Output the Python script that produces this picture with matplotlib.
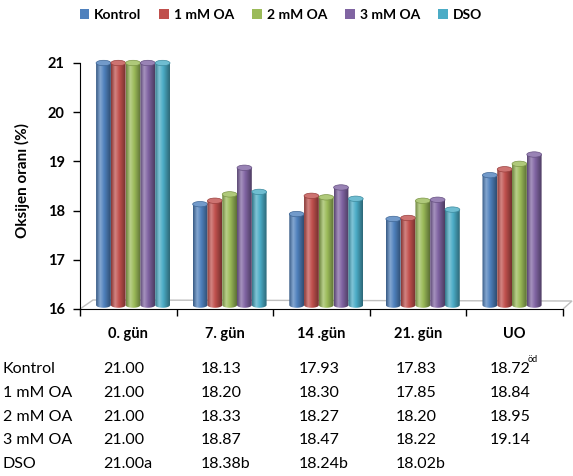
import matplotlib
matplotlib.use('Agg')
import matplotlib.pyplot as plt
import numpy as np
from matplotlib.colors import LinearSegmentedColormap, to_rgb
from matplotlib.patches import Ellipse, Patch, PathPatch, Polygon
from matplotlib.path import Path

plt.rcParams['font.family'] = ['Lato', 'DejaVu Sans']

# sampling days and treatment groups
days = ['0. gün', '7. gün', '14 .gün', '21. gün', 'UO']
groups = ['Kontrol', '1 mM OA', '2 mM OA', '3 mM OA', 'DSO']
kontrol = [21.00, 18.13, 17.93, 17.83, 18.72]
oa1 = [21.00, 18.20, 18.30, 17.85, 18.84]
oa2 = [21.00, 18.33, 18.27, 18.20, 18.95]
oa3 = [21.00, 18.87, 18.47, 18.22, 19.14]
dso = [21.00, 18.38, 18.24, 18.02, np.nan]
dso_letters = ['a', 'b', 'b', 'b', '']
kontrol_sup = ['', '', '', '', 'öd']
series = [kontrol, oa1, oa2, oa3, dso]
colors = ['#4F81BD', '#C0504D', '#9BBB59', '#8064A2', '#4BACC6']

FLOOR = '#BFBFBF'


def shade(c, f):
    r = np.array(to_rgb(c))
    return tuple(r * f) if f < 1 else tuple(r + (1 - r) * (f - 1))


def cylinder(ax, xc, w, base, top, color, z):
    # body with a horizontal gradient, rounded bottom, elliptical cap
    cap_h = 0.11
    cmap = LinearSegmentedColormap.from_list('cyl', [
        (0.0, shade(color, 0.70)), (0.28, shade(color, 1.30)),
        (0.55, shade(color, 1.0)), (1.0, shade(color, 0.60))])
    grad = np.linspace(0, 1, 64).reshape(1, -1)
    x0, x1 = xc - w / 2, xc + w / 2
    t = np.linspace(np.pi, 2 * np.pi, 30)
    verts = [(x0, top)] + [(xc + w / 2 * np.cos(a), base + cap_h / 2 * np.sin(a)) for a in t] + [(x1, top), (x0, top)]
    clip = PathPatch(Path(verts), transform=ax.transData, facecolor='none', edgecolor='none')
    ax.add_patch(clip)
    im = ax.imshow(grad, extent=[x0, x1, base - cap_h / 2, top], aspect='auto', cmap=cmap,
                   zorder=z, interpolation='bilinear')
    im.set_clip_path(clip)
    ax.add_patch(Ellipse((xc, top), w, cap_h, facecolor=shade(color, 1.2),
                         edgecolor=shade(color, 0.8), lw=0.5, zorder=z + 0.5, clip_on=False))


fig = plt.figure(figsize=(5.73, 4.76), dpi=100)
ax = fig.add_axes([80 / 573, 1 - 309 / 476, 483 / 573, 246 / 476])

x = np.arange(len(days))
bw = 0.153
shift = 0.049
base = 16.08
for j, (vals, col) in enumerate(zip(series, colors)):
    for i, v in enumerate(vals):
        if np.isnan(v):
            continue
        xc = x[i] + shift + (j - 2) * bw
        cylinder(ax, xc, bw, base, v, col, 3 + j)

# 3D floor outline
floor = Polygon([(-0.5, 16), (-0.5 + 13 / 96.6, 16 + 9 / 49.2),
                 (4.5 + 9 / 96.6, 16 + 8 / 49.2), (4.5, 16)],
                closed=False, facecolor='white', edgecolor=FLOOR, lw=1, zorder=1, clip_on=False)
ax.add_patch(floor)

ax.set_xlim(-0.5, 4.5)
ax.set_ylim(16, 21)
ax.set_yticks(range(16, 22))
ax.set_xticks(np.arange(-0.5, 5, 1))
ax.set_xticklabels([])
ax.set_xticks(x, minor=True)
ax.set_xticklabels(days, minor=True, fontweight='bold', fontsize=10.5)
ax.tick_params(axis='x', which='minor', length=0, pad=13)
ax.tick_params(axis='x', which='major', direction='out', length=5, width=1)
ax.tick_params(axis='y', direction='out', length=5, width=1, labelsize=10.5, pad=6)
for lb in ax.get_yticklabels():
    lb.set_fontweight('bold')
ax.spines[['top', 'right']].set_visible(False)
ax.spines['left'].set_bounds(16, 21)
ax.patch.set_alpha(0)

fig.text(22 / 573, 1 - 180 / 476, 'Oksijen oranı (%)', rotation=90, ha='center', va='center',
         fontsize=11, fontweight='bold')

handles = [Patch(facecolor=c) for c in colors]
fig.legend(handles, groups, loc='center', bbox_to_anchor=(0.49, 1 - 15 / 476), ncol=5,
           frameon=False, handlelength=0.7, handleheight=0.7, handletextpad=0.35,
           columnspacing=1.3, prop={'weight': 'bold', 'size': 10})

# value table under the chart
col_x = [3, 103, 201, 299, 396, 490]
row_y = [369, 393, 417, 440, 464]
for r, (name, vals) in enumerate(zip(groups, series)):
    fig.text(col_x[0] / 573, 1 - row_y[r] / 476, name, fontsize=11.5, va='center')
    for i, v in enumerate(vals):
        if np.isnan(v):
            continue
        s = f'{v:.2f}'
        if name == 'DSO':
            s += dso_letters[i]
        fig.text(col_x[i + 1] / 573, 1 - row_y[r] / 476, s, fontsize=11.5, va='center')
        if name == 'Kontrol' and kontrol_sup[i]:
            fig.text((col_x[i + 1] + 38) / 573, 1 - (row_y[r] - 5) / 476, kontrol_sup[i],
                     fontsize=6.5, va='bottom')

fig.savefig('out.png', dpi=100, facecolor='white')
